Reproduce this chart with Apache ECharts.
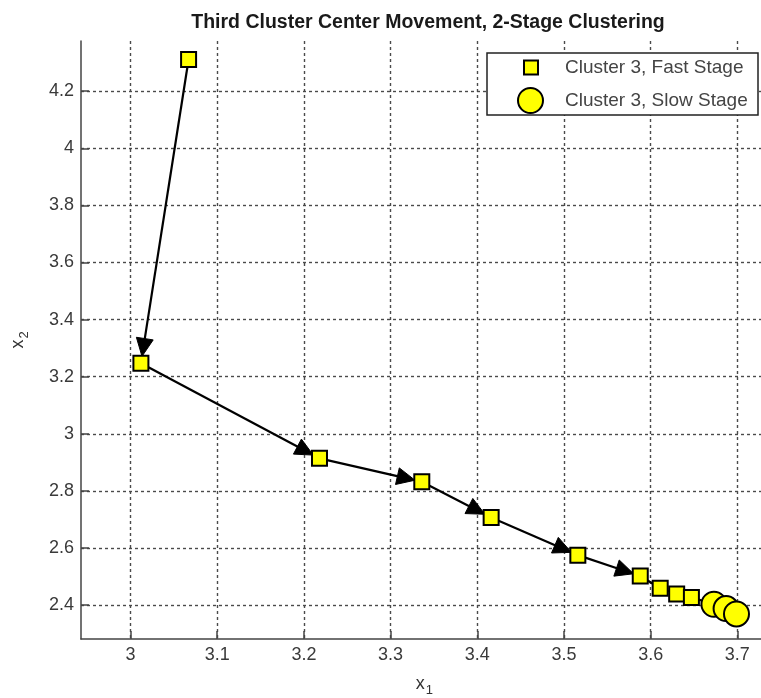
<!DOCTYPE html>
<html>
<head>
<meta charset="utf-8">
<script src="https://cdn.jsdelivr.net/npm/echarts@6/dist/echarts.min.js"></script>
<style>
  html, body { margin: 0; padding: 0; background: #ffffff; }
  #chart { width: 761px; height: 698px; }
</style>
</head>
<body>
<div id="chart"></div>
<script>
// Cluster 3 centre positions, fast stage then slow stage
const fastX = [3.067, 3.012, 3.218, 3.336, 3.416, 3.516, 3.588, 3.611, 3.630, 3.647];
const fastY = [4.311, 3.247, 2.914, 2.832, 2.707, 2.575, 2.502, 2.459, 2.439, 2.427];
const slowX = [3.673, 3.687, 3.699];
const slowY = [2.403, 2.388, 2.369];

// Axis tick values
const xTicks = [3, 3.1, 3.2, 3.3, 3.4, 3.5, 3.6, 3.7];
const yTicks = [2.4, 2.6, 2.8, 3, 3.2, 3.4, 3.6, 3.8, 4, 4.2];

const X_MIN = 2.9429, X_MAX = 3.735;
const Y_MIN = 2.2813, Y_MAX = 4.3758;

const FONT = '"Liberation Sans", Arial, sans-serif';

const fastPts = fastX.map((x, i) => [x, fastY[i]]);
const slowPts = slowX.map((x, i) => [x, slowY[i]]);

// consecutive moves of the centre: [fromX, fromY, toX, toY]
const track = fastPts.concat(slowPts);
const moves = [];
for (let i = 0; i < track.length - 1; i++) {
  moves.push([track[i][0], track[i][1], track[i + 1][0], track[i + 1][1]]);
}

const TIP_GAP = 7;   // px between arrow tip and the target centre
const HEAD_LEN = 18; // arrowhead length, px
const HEAD_HW = 8.5; // arrowhead half width, px

function renderMove(params, api) {
  const a = api.coord([api.value(0), api.value(1)]);
  const b = api.coord([api.value(2), api.value(3)]);
  const dx = b[0] - a[0], dy = b[1] - a[1];
  const len = Math.hypot(dx, dy) || 1;
  const ux = dx / len, uy = dy / len;
  const lineStyle = { stroke: '#000', lineWidth: 2.2 };
  const children = [];
  if (len > 40) {
    const tip = [b[0] - ux * TIP_GAP, b[1] - uy * TIP_GAP];
    const base = [tip[0] - ux * HEAD_LEN, tip[1] - uy * HEAD_LEN];
    children.push({ type: 'line', shape: { x1: a[0], y1: a[1], x2: base[0] + ux * 2, y2: base[1] + uy * 2 }, style: lineStyle });
    children.push({
      type: 'polygon',
      shape: { points: [tip, [base[0] - uy * HEAD_HW, base[1] + ux * HEAD_HW], [base[0] + uy * HEAD_HW, base[1] - ux * HEAD_HW]] },
      style: { fill: '#000', stroke: '#000', lineWidth: 1, lineJoin: 'round' }
    });
  } else {
    children.push({ type: 'line', shape: { x1: a[0], y1: a[1], x2: b[0], y2: b[1] }, style: lineStyle });
  }
  return { type: 'group', children };
}

const tickFmt = v => String(Math.round(v * 10) / 10);
const axisLineStyle = { color: '#444', width: 1.5 };
const gridLineStyle = { color: '#4a4a4a', type: [3, 3], width: 1.4 };
const labelStyle = { fontSize: 18, color: '#3a3a3a', fontFamily: FONT };
const nameRich = {
  a: { fontSize: 18, color: '#333', fontFamily: FONT, verticalAlign: 'top', lineHeight: 22 },
  b: { fontSize: 13, color: '#333', fontFamily: FONT, verticalAlign: 'top', lineHeight: 22, padding: [9, 0, 0, 1] }
};

const chart = echarts.init(document.getElementById('chart'), null, { renderer: 'canvas' });

chart.setOption({
  animation: false,
  backgroundColor: '#ffffff',
  textStyle: { fontFamily: FONT },
  title: {
    text: 'Third Cluster Center Movement, 2-Stage Clustering',
    left: 423,
    top: 8,
    textAlign: 'center',
    textStyle: { fontSize: 19.5, fontWeight: 'bold', color: '#1a1a1a', fontFamily: FONT }
  },
  grid: {
    left: 81,
    top: 41,
    width: 686.7,
    height: 598,
    outerBoundsMode: 'none',
    containLabel: false
  },
  xAxis: {
    type: 'value',
    min: X_MIN,
    max: X_MAX,
    position: 'bottom',
    axisLine: { show: true, onZero: false, lineStyle: axisLineStyle },
    axisTick: { show: true, inside: true, length: 8, customValues: xTicks, lineStyle: axisLineStyle },
    axisLabel: Object.assign({ customValues: xTicks, margin: 7, formatter: tickFmt }, labelStyle),
    splitLine: { show: true, lineStyle: gridLineStyle },
    name: '{a|x}{b|1}',
    nameLocation: 'middle',
    nameGap: 36,
    nameTextStyle: { rich: nameRich }
  },
  yAxis: {
    type: 'value',
    min: Y_MIN,
    max: Y_MAX,
    position: 'left',
    axisLine: { show: true, onZero: false, lineStyle: axisLineStyle },
    axisTick: { show: true, inside: true, length: 8, customValues: yTicks, lineStyle: axisLineStyle },
    axisLabel: Object.assign({ customValues: yTicks, margin: 7, formatter: tickFmt }, labelStyle),
    splitLine: { show: true, lineStyle: gridLineStyle },
    name: '{a|x}{b|2}',
    nameLocation: 'middle',
    nameRotate: 90,
    nameGap: 50,
    nameTextStyle: { rich: nameRich }
  },
  legend: [
    {
      data: ['Cluster 3, Fast Stage'],
      left: 523,
      top: 58,
      padding: 0,
      itemWidth: 14,
      itemHeight: 14,
      selectedMode: false,
      textStyle: { fontSize: 19, color: '#444', fontFamily: FONT, padding: [0, 0, 0, 22] }
    },
    {
      data: ['Cluster 3, Slow Stage'],
      left: 517,
      top: 87,
      padding: 0,
      itemWidth: 25,
      itemHeight: 25,
      selectedMode: false,
      textStyle: { fontSize: 19, color: '#444', fontFamily: FONT, padding: [0, 0, 0, 17] }
    }
  ],
  graphic: [
    {
      type: 'rect',
      z: 3,
      shape: { x: 487, y: 53, width: 271, height: 62 },
      style: { fill: '#ffffff', stroke: '#222', lineWidth: 1.5 }
    }
  ],
  series: [
    {
      type: 'custom',
      name: 'moves',
      z: 1,
      renderItem: renderMove,
      encode: { x: [0, 2], y: [1, 3] },
      data: moves,
      silent: true
    },
    {
      type: 'scatter',
      name: 'Cluster 3, Fast Stage',
      z: 2,
      symbol: 'rect',
      symbolSize: 15,
      itemStyle: { color: '#ffff00', borderColor: '#000', borderWidth: 2, opacity: 1 },
      data: fastPts
    },
    {
      type: 'scatter',
      name: 'Cluster 3, Slow Stage',
      z: 3,
      symbol: 'circle',
      symbolSize: 25,
      itemStyle: { color: '#ffff00', borderColor: '#000', borderWidth: 2, opacity: 1 },
      data: slowPts
    }
  ]
});
</script>
</body>
</html>
